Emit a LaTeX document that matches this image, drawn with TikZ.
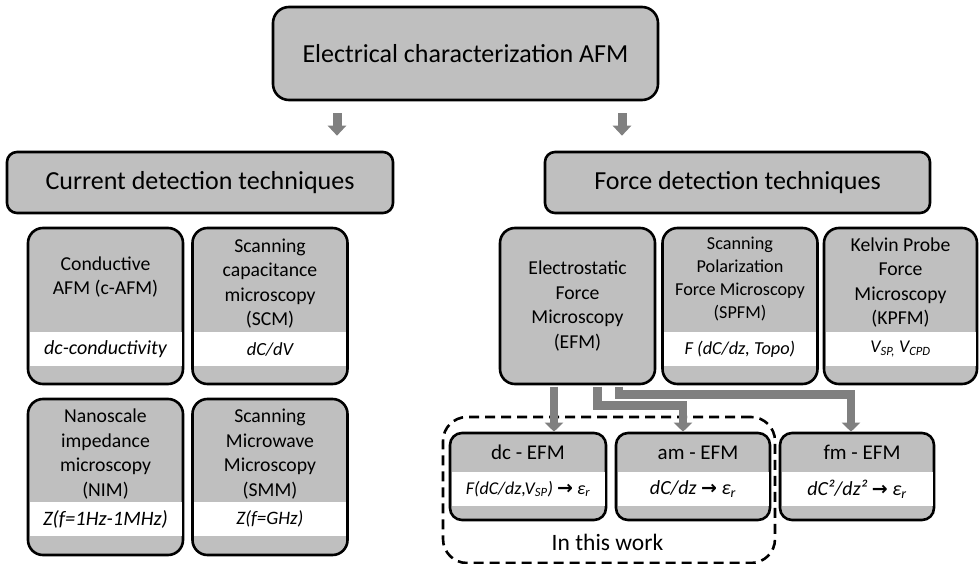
\documentclass[tikz,border=0pt]{standalone}
\usepackage{fontspec}
\setmainfont{Carlito}
\newfontfamily\symfont{DejaVu Sans}
\usetikzlibrary{arrows.meta}
\definecolor{boxgray}{RGB}{191,191,191}
\definecolor{linkgray}{RGB}{128,128,128}
\newcommand{\toeps}{ {\symfont\bfseries\fontsize{19}{19}\selectfont →} ε\textsubscript{r}}

\begin{document}
\begin{tikzpicture}[x=1pt, y=-1pt,
  box/.style={draw, line width=2.6pt, fill=boxgray, inner sep=0pt},
  headbox/.style={box, rounded corners=10pt, minimum width=386pt, minimum height=61pt,
    font=\fontsize{26}{30}\selectfont},
  techbox/.style={box, rounded corners=15pt, minimum width=155pt, minimum height=156pt},
  modebox/.style={box, rounded corners=12pt, minimum width=154pt, minimum height=87pt},
  strip/.style={fill=white, inner sep=0pt, minimum height=34pt,
    font=\fontsize{#1}{22}\selectfont\itshape},
  strip/.default=20,
  techtext/.style={align=center, font=\fontsize{19.7}{24.4}\selectfont},
  downarrow/.style={linkgray, line width=9pt, -{Triangle[length=10pt, width=18pt]}},
  linkarrow/.style={linkgray, line width=8.5pt, -{Triangle[length=9pt, width=18pt]}}]

  \useasboundingbox (0,0) rectangle (979,564);

  % top level
  \node[box, rounded corners=16pt, minimum width=385pt, minimum height=93pt,
    font=\fontsize{26}{30}\selectfont] (title) at (465.5,53.5) {Electrical characterization AFM};
  \node[headbox] (curr) at (200,182.5) {Current detection techniques};
  \node[headbox, minimum width=385pt] (force) at (737.5,182.5) {Force detection techniques};
  \draw[downarrow, shorten <=12pt, shorten >=15pt] ([xshift=-128.5pt]title.south) -- ([xshift=137pt]curr.north);
  \draw[downarrow, shorten <=12pt, shorten >=15pt] ([xshift=156.5pt]title.south) -- ([xshift=-115.5pt]force.north);

  % current detection
  \node[techbox] (cafm) at (105.5,306) {};
  \node[strip, minimum width=152pt] (cafmv) at (105.5,349) {dc-conductivity};
  \node[techtext] (cafmt) at (105.5,277) {Conductive\\AFM (c-AFM)};
  \node[techbox] (scm) at (270,306) {};
  \node[strip=18.5, minimum width=152pt] (scmv) at (270,349) {dC/dV};
  \node[techtext] (scmt) at (270,283.5) {Scanning\\capacitance\\microscopy\\(SCM)};
  \node[techbox] (nim) at (105.5,477) {};
  \node[strip=20.5, minimum width=152pt] (nimv) at (105.5,519) {Z(f=1Hz-1MHz)};
  \node[techtext] (nimt) at (105.5,454) {Nanoscale\\impedance\\microscopy\\(NIM)};
  \node[techbox] (smm) at (270,477) {};
  \node[strip=19, minimum width=152pt] (smmv) at (270,519) {Z(f=GHz)};
  \node[techtext] (smmt) at (270,454) {Scanning\\Microwave\\Microscopy\\(SMM)};

  % force detection
  \node[techbox, techtext] (efm) at (577.5,306) {Electrostatic\\Force\\Microscopy\\(EFM)};
  \node[techbox] (spfm) at (740,306) {};
  \node[strip=18.3, minimum width=152pt] (spfmv) at (740,349) {F (dC/dz, Topo)};
  \node[techtext, font=\fontsize{18.2}{22.7}\selectfont] (spfmt) at (740,279)
    {Scanning\\Polarization\\Force Microscopy\\(SPFM)};
  \node[techbox, minimum width=153pt] (kpfm) at (900.5,306) {};
  \node[strip=18, minimum width=150pt] (kpfmv) at (900.5,349)
    {V\textsubscript{SP,} V\textsubscript{CPD}};
  \node[techtext] (kpfmt) at (900.5,282.5) {Kelvin Probe\\Force\\Microscopy\\(KPFM)};

  % EFM modes
  \node[draw, line width=2.6pt, dash pattern=on 10pt off 6pt, rounded corners=24pt,
    minimum width=332pt, minimum height=146pt] (work) at (609,490) {};
  \node[font=\fontsize{23.5}{28}\selectfont] (workt) at (607.5,542) {In this work};

  \node[modebox, minimum width=156pt] (dc) at (528,476.5) {};
  \node[strip=18, minimum width=153pt] (dcv) at (528,489) {F(dC/dz,V\textsubscript{SP})\toeps};
  \node[techtext, font=\fontsize{21}{24}\selectfont] (dct) at (528,452.5) {dc - EFM};
  \node[modebox] (am) at (693,476.5) {};
  \node[strip, minimum width=151pt] (amv) at (693,489) {dC/dz\toeps};
  \node[techtext, font=\fontsize{21}{24}\selectfont] (amt) at (698,452.5) {am - EFM};
  \node[modebox] (fm) at (857,476.5) {};
  \node[strip, minimum width=151pt] (fmv) at (857,489) {dC²/dz²\toeps};
  \node[techtext, font=\fontsize{21}{24}\selectfont] (fmt) at (862,452.5) {fm - EFM};

  \draw[linkarrow, shorten <=1.3pt] ([xshift=-23.5pt]efm.south) -- ([xshift=26pt]dc.north);
  \draw[linkarrow, shorten <=1.3pt] ([xshift=20pt]efm.south) -- ++(0,20) -| ([xshift=-10pt]am.north);
  \draw[linkarrow, shorten <=1.3pt] ([xshift=41.5pt]efm.south) -- ++(0,9) -| ([xshift=-6pt]fm.north);
\end{tikzpicture}
\end{document}
